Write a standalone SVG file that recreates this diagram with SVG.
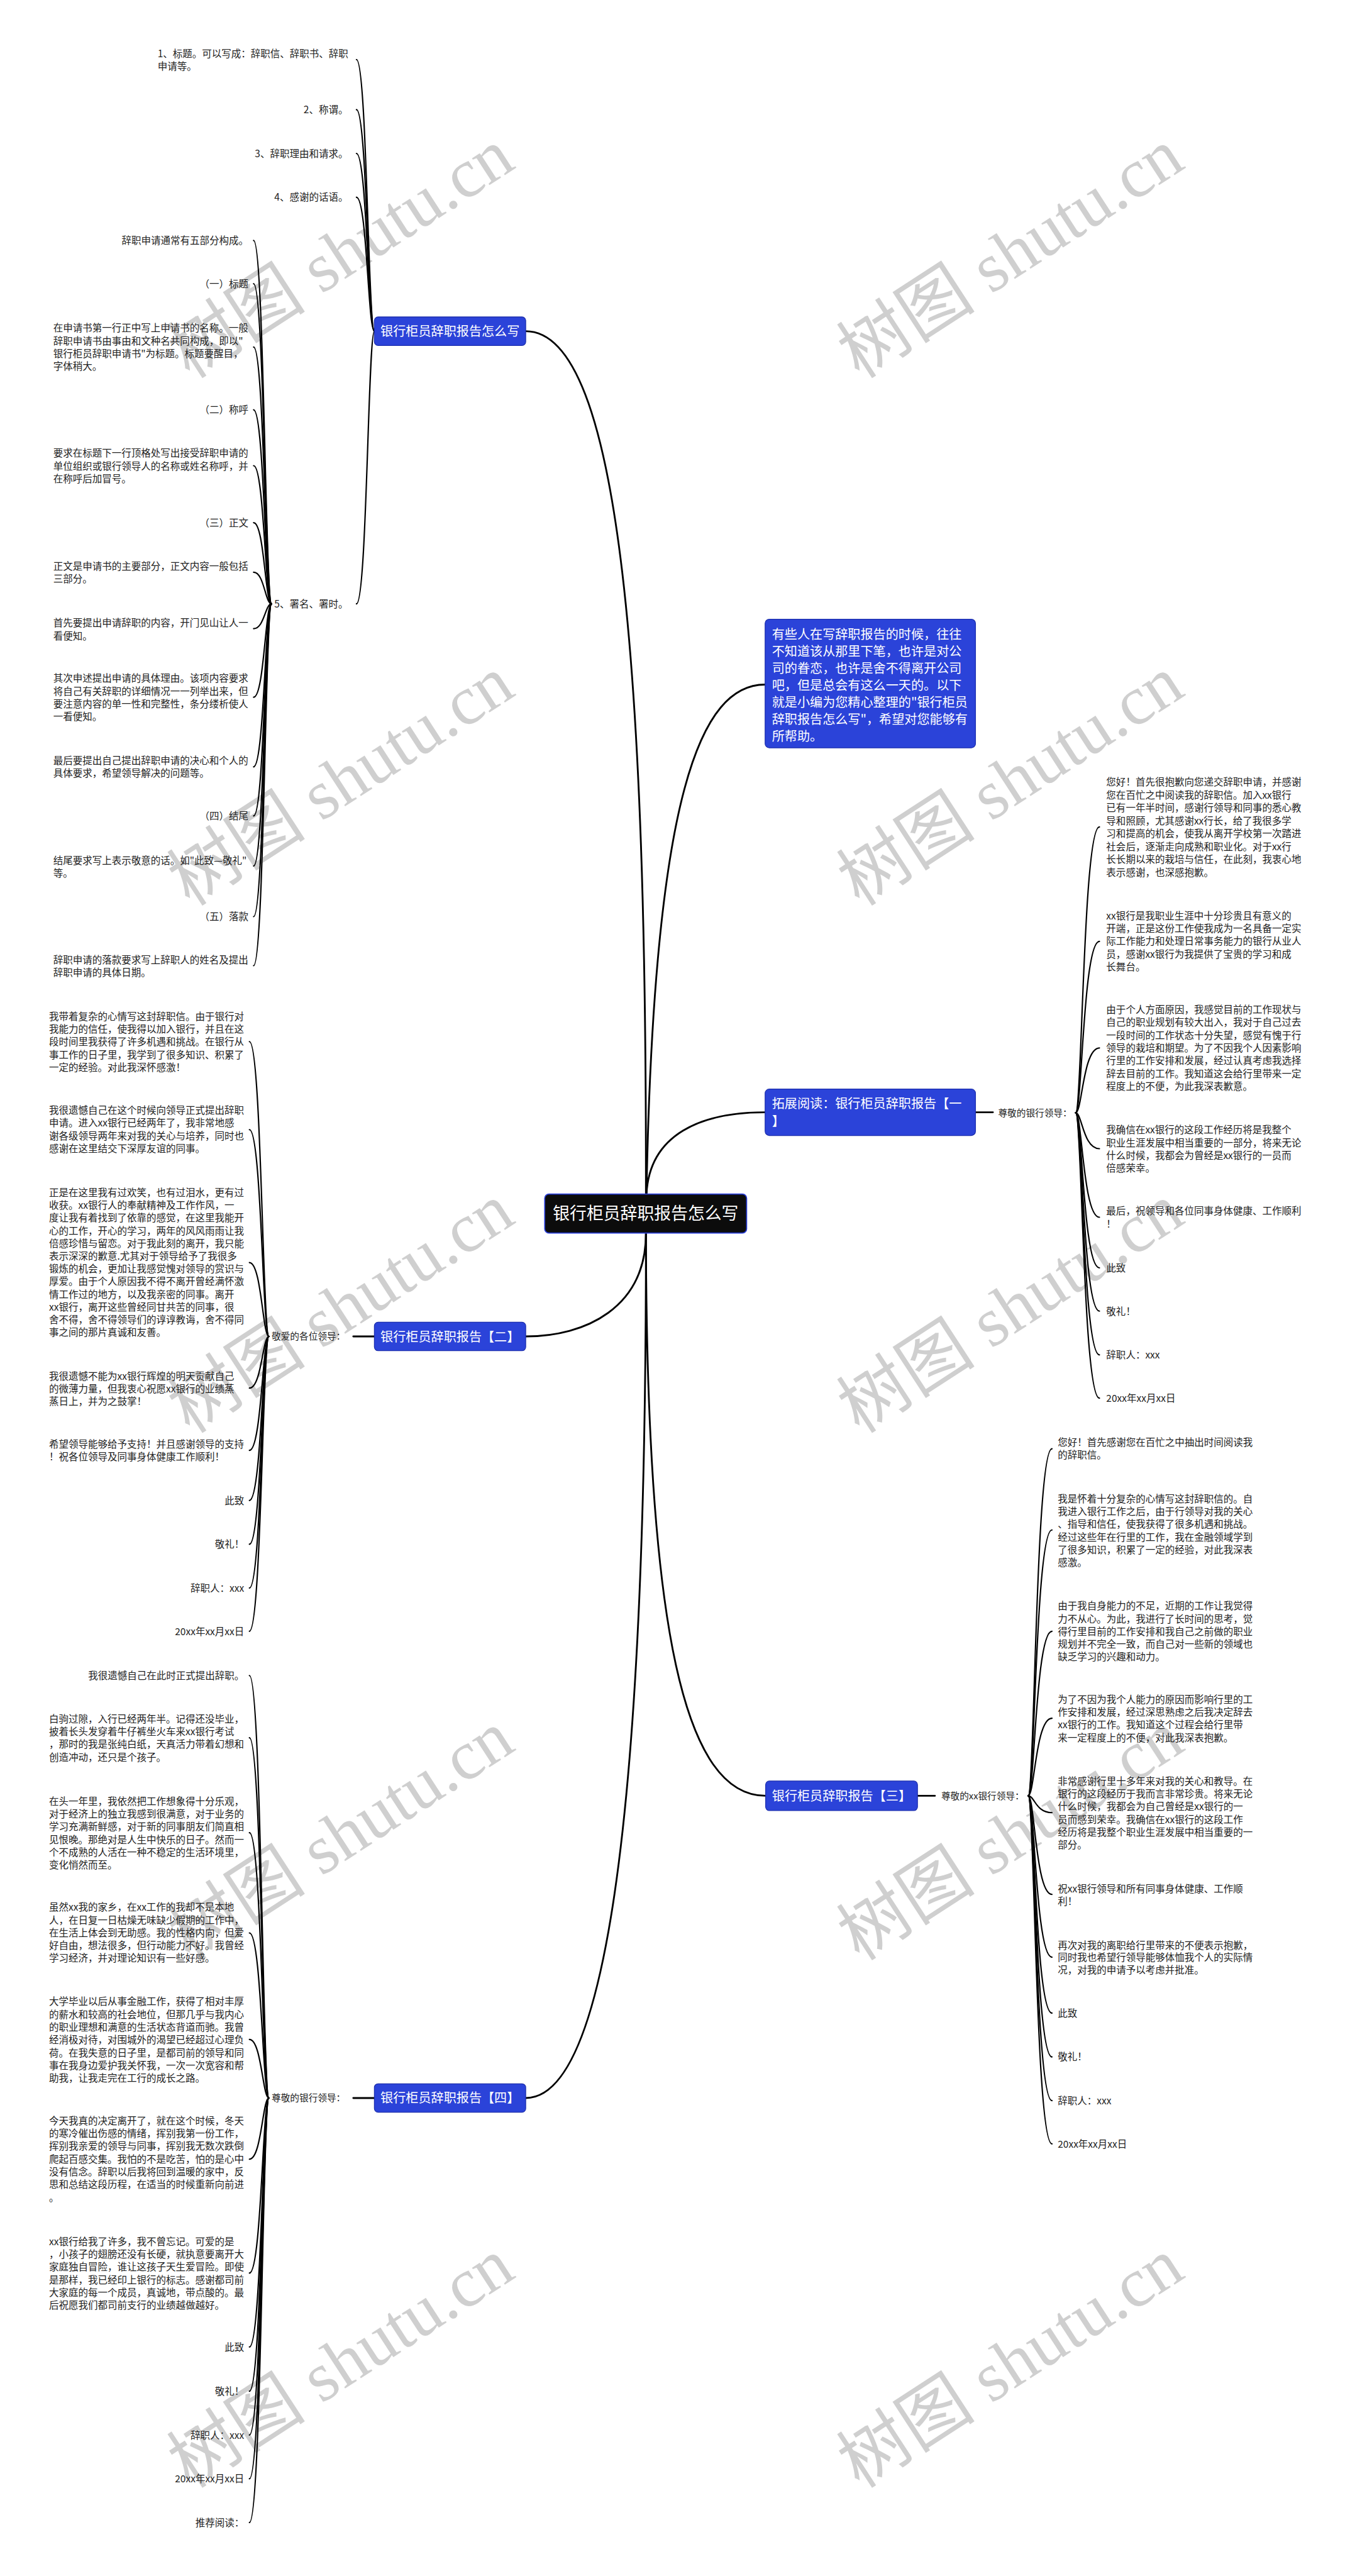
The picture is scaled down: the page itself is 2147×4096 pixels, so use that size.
<svg xmlns="http://www.w3.org/2000/svg" width="2147" height="4096" viewBox="0 0 2147 4096">
<style>
.t{font-family:"Noto Sans CJK SC","Noto Sans",sans-serif;font-size:18.5px;fill:#222}
.e{text-anchor:end}
.lb{font-family:"Noto Sans CJK SC","Noto Sans",sans-serif;font-size:17.5px;fill:#222}
.bt{font-family:"Noto Sans CJK SC","Noto Sans",sans-serif;font-size:24px;fill:#fff}
.mid{text-anchor:middle}
.ct{font-family:"Noto Sans CJK SC","Noto Sans",sans-serif;font-size:32px;fill:#fff;text-anchor:middle}
.box{fill:#2b43d9;stroke:#1d2fae;stroke-width:1.5}
.c{fill:none;stroke:#000;stroke-width:2.6;stroke-linecap:round}
.m{fill:none;stroke:#000;stroke-width:3.4;stroke-linecap:round}
.wm{font-family:"Liberation Serif","Noto Sans CJK SC",serif;font-size:132px;fill:#cfcfcf}
</style>
<rect width="2147" height="4096" fill="#fff"/>
<g transform="scale(0.8386)">
<g id="watermarks">
<text class="wm" transform="translate(360,720) rotate(-33)">树图 shutu.cn</text>
<text class="wm" transform="translate(1630,720) rotate(-33)">树图 shutu.cn</text>
<text class="wm" transform="translate(360,1720) rotate(-33)">树图 shutu.cn</text>
<text class="wm" transform="translate(1630,1720) rotate(-33)">树图 shutu.cn</text>
<text class="wm" transform="translate(360,2720) rotate(-33)">树图 shutu.cn</text>
<text class="wm" transform="translate(1630,2720) rotate(-33)">树图 shutu.cn</text>
<text class="wm" transform="translate(360,3720) rotate(-33)">树图 shutu.cn</text>
<text class="wm" transform="translate(1630,3720) rotate(-33)">树图 shutu.cn</text>
<text class="wm" transform="translate(360,4720) rotate(-33)">树图 shutu.cn</text>
<text class="wm" transform="translate(1630,4720) rotate(-33)">树图 shutu.cn</text>
</g>
<g id="connectors">
<path class="m" d="M1225,2264 C1226,1300 1180,628 997,628"/>
<path class="m" d="M1226,2264 C1240,1500 1330,1298 1451,1298"/>
<path class="m" d="M1226,2264 C1232,2150 1330,2109 1451,2109"/>
<path class="m" d="M1225,2338 C1225,2480 1110,2534 997,2534"/>
<path class="m" d="M1225,2338 C1226,3500 1140,3978 997,3978"/>
<path class="m" d="M1225,2338 C1226,3100 1300,3405 1452,3405"/>
<path class="m" d="M670,2534 L710,2534"/>
<path class="m" d="M670,3978 L710,3978"/>
<path class="m" d="M1850,2109 L1883,2109"/>
<path class="m" d="M1740,3405 L1773,3405"/>
<path class="c" d="M710,628 C698,628 696,113 676,113"/>
<path class="c" d="M710,628 C698,628 696,208 676,208"/>
<path class="c" d="M710,628 C698,628 696,291 676,291"/>
<path class="c" d="M710,628 C698,628 696,374 676,374"/>
<path class="c" d="M710,628 C698,628 696,1145 676,1145"/>
<path class="c" d="M515,1145 C503,1145 501,456 481,456"/>
<path class="c" d="M515,1145 C503,1145 501,538 481,538"/>
<path class="c" d="M515,1145 C503,1145 501,658 481,658"/>
<path class="c" d="M515,1145 C503,1145 501,777 481,777"/>
<path class="c" d="M515,1145 C503,1145 501,883 481,883"/>
<path class="c" d="M515,1145 C503,1145 501,991 481,991"/>
<path class="c" d="M515,1145 C503,1145 501,1085 481,1085"/>
<path class="c" d="M515,1145 C503,1145 501,1192 481,1192"/>
<path class="c" d="M515,1145 C503,1145 501,1322 481,1322"/>
<path class="c" d="M515,1145 C503,1145 501,1454 481,1454"/>
<path class="c" d="M515,1145 C503,1145 501,1547 481,1547"/>
<path class="c" d="M515,1145 C503,1145 501,1642 481,1642"/>
<path class="c" d="M515,1145 C503,1145 501,1738 481,1738"/>
<path class="c" d="M515,1145 C503,1145 501,1831 481,1831"/>
<path class="c" d="M510,2534 C498,2534 496,1975 473,1975"/>
<path class="c" d="M510,2534 C498,2534 496,2142 473,2142"/>
<path class="c" d="M510,2534 C498,2534 496,2394 473,2394"/>
<path class="c" d="M510,2534 C498,2534 496,2632 473,2632"/>
<path class="c" d="M510,2534 C498,2534 496,2750 473,2750"/>
<path class="c" d="M510,2534 C498,2534 496,2845 473,2845"/>
<path class="c" d="M510,2534 C498,2534 496,2928 473,2928"/>
<path class="c" d="M510,2534 C498,2534 496,3011 473,3011"/>
<path class="c" d="M510,2534 C498,2534 496,3093 473,3093"/>
<path class="c" d="M510,3978 C498,3978 496,3177 473,3177"/>
<path class="c" d="M510,3978 C498,3978 496,3295 473,3295"/>
<path class="c" d="M510,3978 C498,3978 496,3475 473,3475"/>
<path class="c" d="M510,3978 C498,3978 496,3665 473,3665"/>
<path class="c" d="M510,3978 C498,3978 496,3867 473,3867"/>
<path class="c" d="M510,3978 C498,3978 496,4094 473,4094"/>
<path class="c" d="M510,3978 C498,3978 496,4310 473,4310"/>
<path class="c" d="M510,3978 C498,3978 496,4450 473,4450"/>
<path class="c" d="M510,3978 C498,3978 496,4534 473,4534"/>
<path class="c" d="M510,3978 C498,3978 496,4617 473,4617"/>
<path class="c" d="M510,3978 C498,3978 496,4700 473,4700"/>
<path class="c" d="M510,3978 C498,3978 496,4783 473,4783"/>
<path class="c" d="M2040,2110 C2052,2110 2054,1568 2085,1568"/>
<path class="c" d="M2040,2110 C2052,2110 2054,1785 2085,1785"/>
<path class="c" d="M2040,2110 C2052,2110 2054,1987 2085,1987"/>
<path class="c" d="M2040,2110 C2052,2110 2054,2178 2085,2178"/>
<path class="c" d="M2040,2110 C2052,2110 2054,2308 2085,2308"/>
<path class="c" d="M2040,2110 C2052,2110 2054,2404 2085,2404"/>
<path class="c" d="M2040,2110 C2052,2110 2054,2486 2085,2486"/>
<path class="c" d="M2040,2110 C2052,2110 2054,2569 2085,2569"/>
<path class="c" d="M2040,2110 C2052,2110 2054,2651 2085,2651"/>
<path class="c" d="M1950,3405 C1962,3405 1964,2747 1995,2747"/>
<path class="c" d="M1950,3405 C1962,3405 1964,2901 1995,2901"/>
<path class="c" d="M1950,3405 C1962,3405 1964,3093 1995,3093"/>
<path class="c" d="M1950,3405 C1962,3405 1964,3258 1995,3258"/>
<path class="c" d="M1950,3405 C1962,3405 1964,3437 1995,3437"/>
<path class="c" d="M1950,3405 C1962,3405 1964,3592 1995,3592"/>
<path class="c" d="M1950,3405 C1962,3405 1964,3711 1995,3711"/>
<path class="c" d="M1950,3405 C1962,3405 1964,3817 1995,3817"/>
<path class="c" d="M1950,3405 C1962,3405 1964,3900 1995,3900"/>
<path class="c" d="M1950,3405 C1962,3405 1964,3983 1995,3983"/>
<path class="c" d="M1950,3405 C1962,3405 1964,4065 1995,4065"/>
</g>
<g id="n-center">
<rect x="1033" y="2264" width="383" height="74" rx="8" fill="#0c0c0c" stroke="#2a3fd8" stroke-width="2"/>
<text class="ct" x="1224.5" y="2312">银行柜员辞职报告怎么写</text>
</g>
<g id="n-intro">
<rect class="box" x="1451" y="1174" width="399" height="244" rx="8"/>
<text class="bt" x="1464" y="1212">有些人在写辞职报告的时候，往往<tspan x="1464" dy="32.2">不知道该从那里下笔，也许是对公</tspan><tspan x="1464" dy="32.2">司的眷恋，也许是舍不得离开公司</tspan><tspan x="1464" dy="32.2">吧，但是总会有这么一天的。以下</tspan><tspan x="1464" dy="32.2">就是小编为您精心整理的"银行柜员</tspan><tspan x="1464" dy="32.2">辞职报告怎么写"，希望对您能够有</tspan><tspan x="1464" dy="32.2">所帮助。</tspan></text>
</g>
<g id="n-b1">
<rect class="box" x="710" y="601" width="287" height="54" rx="7"/>
<text class="bt mid" x="853.5" y="637">银行柜员辞职报告怎么写</text>
</g>
<g id="n-b1-1"><text class="t" x="299" y="108">1、标题。可以写成：辞职信、辞职书、辞职<tspan x="299" dy="24.2">申请等。</tspan></text></g>
<g id="n-b1-2"><text class="t e" x="660" y="215">2、称谓。</text></g>
<g id="n-b1-3"><text class="t e" x="660" y="298">3、辞职理由和请求。</text></g>
<g id="n-b1-4"><text class="t e" x="660" y="381">4、感谢的话语。</text></g>
<g id="n-b1-5"><text class="t e" x="660" y="1152">5、署名、署时。</text></g>
<g id="n-b1-5-1"><text class="t e" x="471" y="463">辞职申请通常有五部分构成。</text></g>
<g id="n-b1-5-2"><text class="t e" x="471" y="545">（一）标题</text></g>
<g id="n-b1-5-3"><text class="t" x="101" y="629">在申请书第一行正中写上申请书的名称。一般<tspan x="101" dy="24.2">辞职申请书由事由和文种名共同构成，即以"</tspan><tspan x="101" dy="24.2">银行柜员辞职申请书"为标题。标题要醒目，</tspan><tspan x="101" dy="24.2">字体稍大。</tspan></text></g>
<g id="n-b1-5-4"><text class="t e" x="471" y="784">（二）称呼</text></g>
<g id="n-b1-5-5"><text class="t" x="101" y="866">要求在标题下一行顶格处写出接受辞职申请的<tspan x="101" dy="24.2">单位组织或银行领导人的名称或姓名称呼，并</tspan><tspan x="101" dy="24.2">在称呼后加冒号。</tspan></text></g>
<g id="n-b1-5-6"><text class="t e" x="471" y="998">（三）正文</text></g>
<g id="n-b1-5-7"><text class="t" x="101" y="1080">正文是申请书的主要部分，正文内容一般包括<tspan x="101" dy="24.2">三部分。</tspan></text></g>
<g id="n-b1-5-8"><text class="t" x="101" y="1188">首先要提出申请辞职的内容，开门见山让人一<tspan x="101" dy="24.2">看便知。</tspan></text></g>
<g id="n-b1-5-9"><text class="t" x="101" y="1293">其次申述提出申请的具体理由。该项内容要求<tspan x="101" dy="24.2">将自己有关辞职的详细情况一一列举出来，但</tspan><tspan x="101" dy="24.2">要注意内容的单一性和完整性，条分缕析使人</tspan><tspan x="101" dy="24.2">一看便知。</tspan></text></g>
<g id="n-b1-5-10"><text class="t" x="101" y="1449">最后要提出自己提出辞职申请的决心和个人的<tspan x="101" dy="24.2">具体要求，希望领导解决的问题等。</tspan></text></g>
<g id="n-b1-5-11"><text class="t e" x="471" y="1554">（四）结尾</text></g>
<g id="n-b1-5-12"><text class="t" x="101" y="1638">结尾要求写上表示敬意的话。如"此致—敬礼"<tspan x="101" dy="24.2">等。</tspan></text></g>
<g id="n-b1-5-13"><text class="t e" x="471" y="1745">（五）落款</text></g>
<g id="n-b1-5-14"><text class="t" x="101" y="1827">辞职申请的落款要求写上辞职人的姓名及提出<tspan x="101" dy="24.2">辞职申请的具体日期。</tspan></text></g>
<g id="n-b2">
<rect class="box" x="710" y="2507" width="287" height="54" rx="7"/>
<text class="bt mid" x="853.5" y="2543">银行柜员辞职报告【二】</text>
</g>
<g id="n-b2-l"><text class="lb e" x="655" y="2540.5">敬爱的各位领导：</text></g>
<g id="n-b2-1"><text class="t" x="93" y="1934">我带着复杂的心情写这封辞职信。由于银行对<tspan x="93" dy="24.2">我能力的信任，使我得以加入银行，并且在这</tspan><tspan x="93" dy="24.2">段时间里我获得了许多机遇和挑战。在银行从</tspan><tspan x="93" dy="24.2">事工作的日子里，我学到了很多知识、积累了</tspan><tspan x="93" dy="24.2">一定的经验。对此我深怀感激！</tspan></text></g>
<g id="n-b2-2"><text class="t" x="93" y="2112">我很遗憾自己在这个时候向领导正式提出辞职<tspan x="93" dy="24.2">申请。进入xx银行已经两年了，我非常地感</tspan><tspan x="93" dy="24.2">谢各级领导两年来对我的关心与培养，同时也</tspan><tspan x="93" dy="24.2">感谢在这里结交下深厚友谊的同事。</tspan></text></g>
<g id="n-b2-3"><text class="t" x="93" y="2268">正是在这里我有过欢笑，也有过泪水，更有过<tspan x="93" dy="24.1">收获。xx银行人的奉献精神及工作作风，一</tspan><tspan x="93" dy="24.1">度让我有着找到了依靠的感觉，在这里我能开</tspan><tspan x="93" dy="24.1">心的工作，开心的学习，两年的风风雨雨让我</tspan><tspan x="93" dy="24.1">倍感珍惜与留恋。对于我此刻的离开，我只能</tspan><tspan x="93" dy="24.1">表示深深的歉意.尤其对于领导给予了我很多</tspan><tspan x="93" dy="24.1">锻炼的机会，更加让我感觉愧对领导的赏识与</tspan><tspan x="93" dy="24.1">厚爱。由于个人原因我不得不离开曾经满怀激</tspan><tspan x="93" dy="24.1">情工作过的地方，以及我亲密的同事。离开</tspan><tspan x="93" dy="24.1">xx银行，离开这些曾经同甘共苦的同事，很</tspan><tspan x="93" dy="24.1">舍不得，舍不得领导们的谆谆教诲，舍不得同</tspan><tspan x="93" dy="24.1">事之间的那片真诚和友善。</tspan></text></g>
<g id="n-b2-4"><text class="t" x="93" y="2616">我很遗憾不能为xx银行辉煌的明天贡献自己<tspan x="93" dy="24.2">的微薄力量，但我衷心祝愿xx银行的业绩蒸</tspan><tspan x="93" dy="24.2">蒸日上，并为之鼓掌！</tspan></text></g>
<g id="n-b2-5"><text class="t" x="93" y="2745">希望领导能够给予支持！并且感谢领导的支持<tspan x="93" dy="24.2">！祝各位领导及同事身体健康工作顺利！</tspan></text></g>
<g id="n-b2-6"><text class="t e" x="463" y="2852">此致</text></g>
<g id="n-b2-7"><text class="t e" x="463" y="2935">敬礼！</text></g>
<g id="n-b2-8"><text class="t e" x="463" y="3018">辞职人：xxx</text></g>
<g id="n-b2-9"><text class="t e" x="463" y="3100">20xx年xx月xx日</text></g>
<g id="n-b4">
<rect class="box" x="710" y="3951" width="287" height="54" rx="7"/>
<text class="bt mid" x="853.5" y="3987">银行柜员辞职报告【四】</text>
</g>
<g id="n-b4-l"><text class="lb e" x="655" y="3984.5">尊敬的银行领导：</text></g>
<g id="n-b4-1"><text class="t e" x="463" y="3184">我很遗憾自己在此时正式提出辞职。</text></g>
<g id="n-b4-2"><text class="t" x="93" y="3266">白驹过隙，入行已经两年半。记得还没毕业，<tspan x="93" dy="24.2">披着长头发穿着牛仔裤坐火车来xx银行考试</tspan><tspan x="93" dy="24.2">，那时的我是张纯白纸，天真活力带着幻想和</tspan><tspan x="93" dy="24.2">创造冲动，还只是个孩子。</tspan></text></g>
<g id="n-b4-3"><text class="t" x="93" y="3422">在头一年里，我依然把工作想象得十分乐观，<tspan x="93" dy="24.2">对于经济上的独立我感到很满意，对于业务的</tspan><tspan x="93" dy="24.2">学习充满新鲜感，对于新的同事朋友们简直相</tspan><tspan x="93" dy="24.2">见恨晚。那绝对是人生中快乐的日子。然而一</tspan><tspan x="93" dy="24.2">个不成熟的人活在一种不稳定的生活环境里，</tspan><tspan x="93" dy="24.2">变化悄然而至。</tspan></text></g>
<g id="n-b4-4"><text class="t" x="93" y="3623">虽然xx我的家乡，在xx工作的我却不是本地<tspan x="93" dy="24.2">人，在日复一日枯燥无味缺少假期的工作中，</tspan><tspan x="93" dy="24.2">在生活上体会到无助感。我的性格内向，但爱</tspan><tspan x="93" dy="24.2">好自由，想法很多，但行动能力不好。我曾经</tspan><tspan x="93" dy="24.2">学习经济，并对理论知识有一些好感。</tspan></text></g>
<g id="n-b4-5"><text class="t" x="93" y="3802">大学毕业以后从事金融工作，获得了相对丰厚<tspan x="93" dy="24.2">的薪水和较高的社会地位，但那几乎与我内心</tspan><tspan x="93" dy="24.2">的职业理想和满意的生活状态背道而驰。我曾</tspan><tspan x="93" dy="24.2">经消极对待，对围城外的渴望已经超过心理负</tspan><tspan x="93" dy="24.2">荷。在我失意的日子里，是都司前的领导和同</tspan><tspan x="93" dy="24.2">事在我身边爱护我关怀我，一次一次宽容和帮</tspan><tspan x="93" dy="24.2">助我，让我走完在工行的成长之路。</tspan></text></g>
<g id="n-b4-6"><text class="t" x="93" y="4028">今天我真的决定离开了，就在这个时候，冬天<tspan x="93" dy="24.2">的寒冷催出伤感的情绪，挥别我第一份工作，</tspan><tspan x="93" dy="24.2">挥别我亲爱的领导与同事，挥别我无数次跌倒</tspan><tspan x="93" dy="24.2">爬起百感交集。我怕的不是吃苦，怕的是心中</tspan><tspan x="93" dy="24.2">没有信念。辞职以后我将回到温暖的家中，反</tspan><tspan x="93" dy="24.2">思和总结这段历程，在适当的时候重新向前进</tspan><tspan x="93" dy="24.2">。</tspan></text></g>
<g id="n-b4-7"><text class="t" x="93" y="4257">xx银行给我了许多，我不曾忘记。可爱的是<tspan x="93" dy="24.2">，小孩子的翅膀还没有长硬，就执意要离开大</tspan><tspan x="93" dy="24.2">家庭独自冒险，谁让这孩子天生爱冒险。即使</tspan><tspan x="93" dy="24.2">是那样，我已经印上银行的标志。感谢都司前</tspan><tspan x="93" dy="24.2">大家庭的每一个成员，真诚地，带点酸的。最</tspan><tspan x="93" dy="24.2">后祝愿我们都司前支行的业绩越做越好。</tspan></text></g>
<g id="n-b4-8"><text class="t e" x="463" y="4457">此致</text></g>
<g id="n-b4-9"><text class="t e" x="463" y="4541">敬礼！</text></g>
<g id="n-b4-10"><text class="t e" x="463" y="4624">辞职人：xxx</text></g>
<g id="n-b4-11"><text class="t e" x="463" y="4707">20xx年xx月xx日</text></g>
<g id="n-b4-12"><text class="t e" x="463" y="4790">推荐阅读：</text></g>
<g id="n-b5">
<rect class="box" x="1451" y="2065" width="399" height="88" rx="8"/>
<text class="bt" x="1464" y="2101">拓展阅读：银行柜员辞职报告【一<tspan x="1464" dy="33">】</tspan></text>
</g>
<g id="n-b5-l"><text class="lb" x="1893" y="2116.5">尊敬的银行领导：</text></g>
<g id="n-b5-1"><text class="t" x="2098" y="1490">您好！首先很抱歉向您递交辞职申请，并感谢<tspan x="2098" dy="24.4">您在百忙之中阅读我的辞职信。加入xx银行</tspan><tspan x="2098" dy="24.4">已有一年半时间，感谢行领导和同事的悉心教</tspan><tspan x="2098" dy="24.4">导和照顾，尤其感谢xx行长，给了我很多学</tspan><tspan x="2098" dy="24.4">习和提高的机会，使我从离开学校第一次踏进</tspan><tspan x="2098" dy="24.4">社会后，逐渐走向成熟和职业化。对于xx行</tspan><tspan x="2098" dy="24.4">长长期以来的栽培与信任，在此刻，我衷心地</tspan><tspan x="2098" dy="24.4">表示感谢，也深感抱歉。</tspan></text></g>
<g id="n-b5-2"><text class="t" x="2098" y="1743">xx银行是我职业生涯中十分珍贵且有意义的<tspan x="2098" dy="24.3">开端，正是这份工作使我成为一名具备一定实</tspan><tspan x="2098" dy="24.3">际工作能力和处理日常事务能力的银行从业人</tspan><tspan x="2098" dy="24.3">员，感谢xx银行为我提供了宝贵的学习和成</tspan><tspan x="2098" dy="24.3">长舞台。</tspan></text></g>
<g id="n-b5-3"><text class="t" x="2098" y="1921">由于个人方面原因，我感觉目前的工作现状与<tspan x="2098" dy="24.3">自己的职业规划有较大出入，我对于自己过去</tspan><tspan x="2098" dy="24.3">一段时间的工作状态十分失望，感觉有愧于行</tspan><tspan x="2098" dy="24.3">领导的栽培和期望。为了不因我个人因素影响</tspan><tspan x="2098" dy="24.3">行里的工作安排和发展，经过认真考虑我选择</tspan><tspan x="2098" dy="24.3">辞去目前的工作。我知道这会给行里带来一定</tspan><tspan x="2098" dy="24.3">程度上的不便，为此我深表歉意。</tspan></text></g>
<g id="n-b5-4"><text class="t" x="2098" y="2149">我确信在xx银行的这段工作经历将是我整个<tspan x="2098" dy="24.3">职业生涯发展中相当重要的一部分，将来无论</tspan><tspan x="2098" dy="24.3">什么时候，我都会为曾经是xx银行的一员而</tspan><tspan x="2098" dy="24.3">倍感荣幸。</tspan></text></g>
<g id="n-b5-5"><text class="t" x="2098" y="2303">最后，祝领导和各位同事身体健康、工作顺利<tspan x="2098" dy="24.3">！</tspan></text></g>
<g id="n-b5-6"><text class="t" x="2098" y="2411">此致</text></g>
<g id="n-b5-7"><text class="t" x="2098" y="2493">敬礼！</text></g>
<g id="n-b5-8"><text class="t" x="2098" y="2576">辞职人：xxx</text></g>
<g id="n-b5-9"><text class="t" x="2098" y="2658">20xx年xx月xx日</text></g>
<g id="n-b3">
<rect class="box" x="1452" y="3377" width="288" height="56" rx="7"/>
<text class="bt mid" x="1596" y="3414">银行柜员辞职报告【三】</text>
</g>
<g id="n-b3-l"><text class="lb" x="1785" y="3411.5">尊敬的xx银行领导：</text></g>
<g id="n-b3-1"><text class="t" x="2006" y="2741">您好！首先感谢您在百忙之中抽出时间阅读我<tspan x="2006" dy="24.2">的辞职信。</tspan></text></g>
<g id="n-b3-2"><text class="t" x="2006" y="2849">我是怀着十分复杂的心情写这封辞职信的。自<tspan x="2006" dy="24">我进入银行工作之后，由于行领导对我的关心</tspan><tspan x="2006" dy="24">、指导和信任，使我获得了很多机遇和挑战。</tspan><tspan x="2006" dy="24">经过这些年在行里的工作，我在金融领域学到</tspan><tspan x="2006" dy="24">了很多知识，积累了一定的经验，对此我深表</tspan><tspan x="2006" dy="24">感激。</tspan></text></g>
<g id="n-b3-3"><text class="t" x="2006" y="3052">由于我自身能力的不足，近期的工作让我觉得<tspan x="2006" dy="24">力不从心。为此，我进行了长时间的思考，觉</tspan><tspan x="2006" dy="24">得行里目前的工作安排和我自己之前做的职业</tspan><tspan x="2006" dy="24">规划并不完全一致，而自己对一些新的领域也</tspan><tspan x="2006" dy="24">缺乏学习的兴趣和动力。</tspan></text></g>
<g id="n-b3-4"><text class="t" x="2006" y="3229">为了不因为我个人能力的原因而影响行里的工<tspan x="2006" dy="24.2">作安排和发展，经过深思熟虑之后我决定辞去</tspan><tspan x="2006" dy="24.2">xx银行的工作。我知道这个过程会给行里带</tspan><tspan x="2006" dy="24.2">来一定程度上的不便，对此我深表抱歉。</tspan></text></g>
<g id="n-b3-5"><text class="t" x="2006" y="3384">非常感谢行里十多年来对我的关心和教导。在<tspan x="2006" dy="24.2">银行的这段经历于我而言非常珍贵。将来无论</tspan><tspan x="2006" dy="24.2">什么时候，我都会为自己曾经是xx银行的一</tspan><tspan x="2006" dy="24.2">员而感到荣幸。我确信在xx银行的这段工作</tspan><tspan x="2006" dy="24.2">经历将是我整个职业生涯发展中相当重要的一</tspan><tspan x="2006" dy="24.2">部分。</tspan></text></g>
<g id="n-b3-6"><text class="t" x="2006" y="3588">祝xx银行领导和所有同事身体健康、工作顺<tspan x="2006" dy="24">利！</tspan></text></g>
<g id="n-b3-7"><text class="t" x="2006" y="3695">再次对我的离职给行里带来的不便表示抱歉，<tspan x="2006" dy="23.7">同时我也希望行领导能够体恤我个人的实际情</tspan><tspan x="2006" dy="23.7">况，对我的申请予以考虑并批准。</tspan></text></g>
<g id="n-b3-8"><text class="t" x="2006" y="3824">此致</text></g>
<g id="n-b3-9"><text class="t" x="2006" y="3907">敬礼！</text></g>
<g id="n-b3-10"><text class="t" x="2006" y="3990">辞职人：xxx</text></g>
<g id="n-b3-11"><text class="t" x="2006" y="4072">20xx年xx月xx日</text></g>
</g>
</svg>
